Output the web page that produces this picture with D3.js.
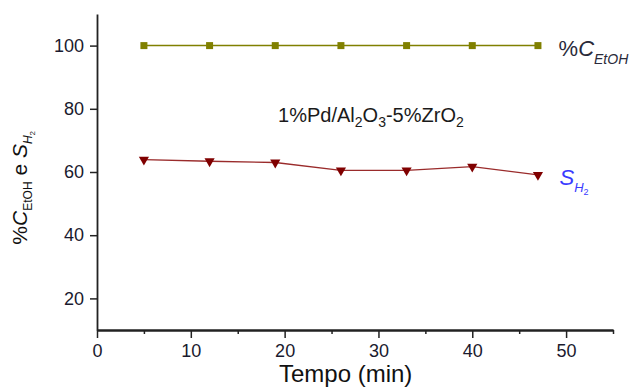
<!DOCTYPE html>
<html>
<head>
<meta charset="utf-8">
<script src="https://cdn.jsdelivr.net/npm/d3@7"></script>
<style>
  body { margin: 0; background: #fff; }
  text { font-family: "Liberation Sans", Arial, sans-serif; }
</style>
</head>
<body>
<div class="chart"></div>
<script>
var svgWidth = 638;
var svgHeight = 387;

var margin = { top: 14, right: 25, bottom: 57, left: 97 };
var width = svgWidth - margin.left - margin.right;
var height = svgHeight - margin.top - margin.bottom;

// data
var tempo = [5, 12, 19, 26, 33, 40, 47];
var conversaoEtOH = [100, 100, 100, 100, 100, 100, 100];
var seletividadeH2 = [63.9, 63.4, 63.0, 60.5, 60.5, 61.7, 59.1];
var xTicks = [0, 10, 20, 30, 40, 50];
var xMinorTicks = [5, 15, 25, 35, 45, 55];
var yTicks = [20, 40, 60, 80, 100];

var svg = d3.select(".chart")
  .append("svg")
  .attr("width", svgWidth)
  .attr("height", svgHeight);

var chartGroup = svg.append("g")
  .attr("transform", `translate(${margin.left}, ${margin.top})`);

var xScale = d3.scaleLinear().domain([0, 55]).range([0, width]);
var yScale = d3.scaleLinear().domain([10, 110]).range([height, 0]);

// axes
var bottomAxis = d3.axisBottom(xScale).tickValues(xTicks).tickSize(8).tickSizeOuter(0).tickPadding(6);
var minorAxis = d3.axisBottom(xScale).tickValues(xMinorTicks).tickSize(4).tickSizeOuter(0).tickFormat("");
var leftAxis = d3.axisLeft(yScale).tickValues(yTicks).tickSize(7).tickSizeOuter(0).tickPadding(6);

chartGroup.append("g")
  .attr("transform", `translate(0, ${height})`)
  .call(bottomAxis);
chartGroup.append("g")
  .attr("transform", `translate(0, ${height})`)
  .call(minorAxis);
chartGroup.append("g").call(leftAxis);

chartGroup.selectAll(".domain").attr("stroke", "#222").attr("stroke-width", 1.8);
chartGroup.selectAll(".tick line").attr("stroke", "#222").attr("stroke-width", 1.5);
chartGroup.selectAll(".tick text")
  .attr("fill", "#1a1a2e")
  .style("font-size", "18px");

// lines
var lineC = d3.line().x((d, i) => xScale(tempo[i])).y(d => yScale(d));

chartGroup.append("path")
  .datum(conversaoEtOH)
  .attr("d", lineC)
  .attr("fill", "none")
  .attr("stroke", "#808000")
  .attr("stroke-width", 1.5);

chartGroup.append("path")
  .datum(seletividadeH2)
  .attr("d", lineC)
  .attr("fill", "none")
  .attr("stroke", "#9a2b2b")
  .attr("stroke-width", 1.3);

chartGroup.selectAll(".sq")
  .data(conversaoEtOH)
  .enter()
  .append("rect")
  .attr("x", (d, i) => xScale(tempo[i]) - 3.5)
  .attr("y", d => yScale(d) - 3.5)
  .attr("width", 7)
  .attr("height", 7)
  .attr("fill", "#808000");

var tri = d3.symbol().type(d3.symbolTriangle).size(45);
chartGroup.selectAll(".tri")
  .data(seletividadeH2)
  .enter()
  .append("path")
  .attr("d", tri)
  .attr("transform", (d, i) => `translate(${xScale(tempo[i])}, ${yScale(d)}) rotate(180)`)
  .attr("fill", "#800000");

// labels
var lblC = chartGroup.append("text")
  .attr("x", xScale(49.2))
  .attr("y", yScale(100) + 10)
  .attr("fill", "#2a2a3a")
  .style("font-size", "22px");
lblC.append("tspan").text("%");
lblC.append("tspan").style("font-style", "italic").text("C");
lblC.append("tspan").style("font-style", "italic").style("font-size", "14px").attr("dy", 8).text("EtOH");

var lblS = chartGroup.append("text")
  .attr("x", xScale(49.3))
  .attr("y", yScale(59.1) + 10)
  .attr("fill", "#3a3aff")
  .style("font-size", "22px");
lblS.append("tspan").style("font-style", "italic").text("S");
lblS.append("tspan").style("font-style", "italic").style("font-size", "13px").attr("dy", 7).text("H");
lblS.append("tspan").style("font-size", "9px").attr("dy", 3).text("2");

var title = chartGroup.append("text")
  .attr("x", xScale(19.3))
  .attr("y", yScale(80) + 13)
  .attr("fill", "#1a1a1a")
  .style("font-size", "20px");
title.append("tspan").text("1%Pd/Al");
title.append("tspan").style("font-size", "14px").attr("dy", 5).text("2");
title.append("tspan").attr("dy", -5).text("O");
title.append("tspan").style("font-size", "14px").attr("dy", 5).text("3");
title.append("tspan").attr("dy", -5).text("-5%ZrO");
title.append("tspan").style("font-size", "14px").attr("dy", 5).text("2");

// axis titles
chartGroup.append("text")
  .attr("x", xScale(26.5))
  .attr("y", height + 52)
  .attr("text-anchor", "middle")
  .attr("fill", "#111")
  .style("font-size", "24px")
  .text("Tempo (min)");

var yLabel = chartGroup.append("text")
  .attr("transform", `translate(${-70}, ${yScale(55)}) rotate(-90)`)
  .attr("text-anchor", "middle")
  .attr("fill", "#111")
  .style("font-size", "21px");
yLabel.append("tspan").text("%");
yLabel.append("tspan").style("font-style", "italic").text("C");
yLabel.append("tspan").style("font-size", "12px").attr("dy", 5).text("EtOH");
yLabel.append("tspan").attr("dy", -5).text(" e ");
yLabel.append("tspan").style("font-style", "italic").text("S");
yLabel.append("tspan").style("font-style", "italic").style("font-size", "12px").attr("dy", 5).text("H");
yLabel.append("tspan").style("font-size", "8px").attr("dy", 3).text("2");
</script>
</body>
</html>
